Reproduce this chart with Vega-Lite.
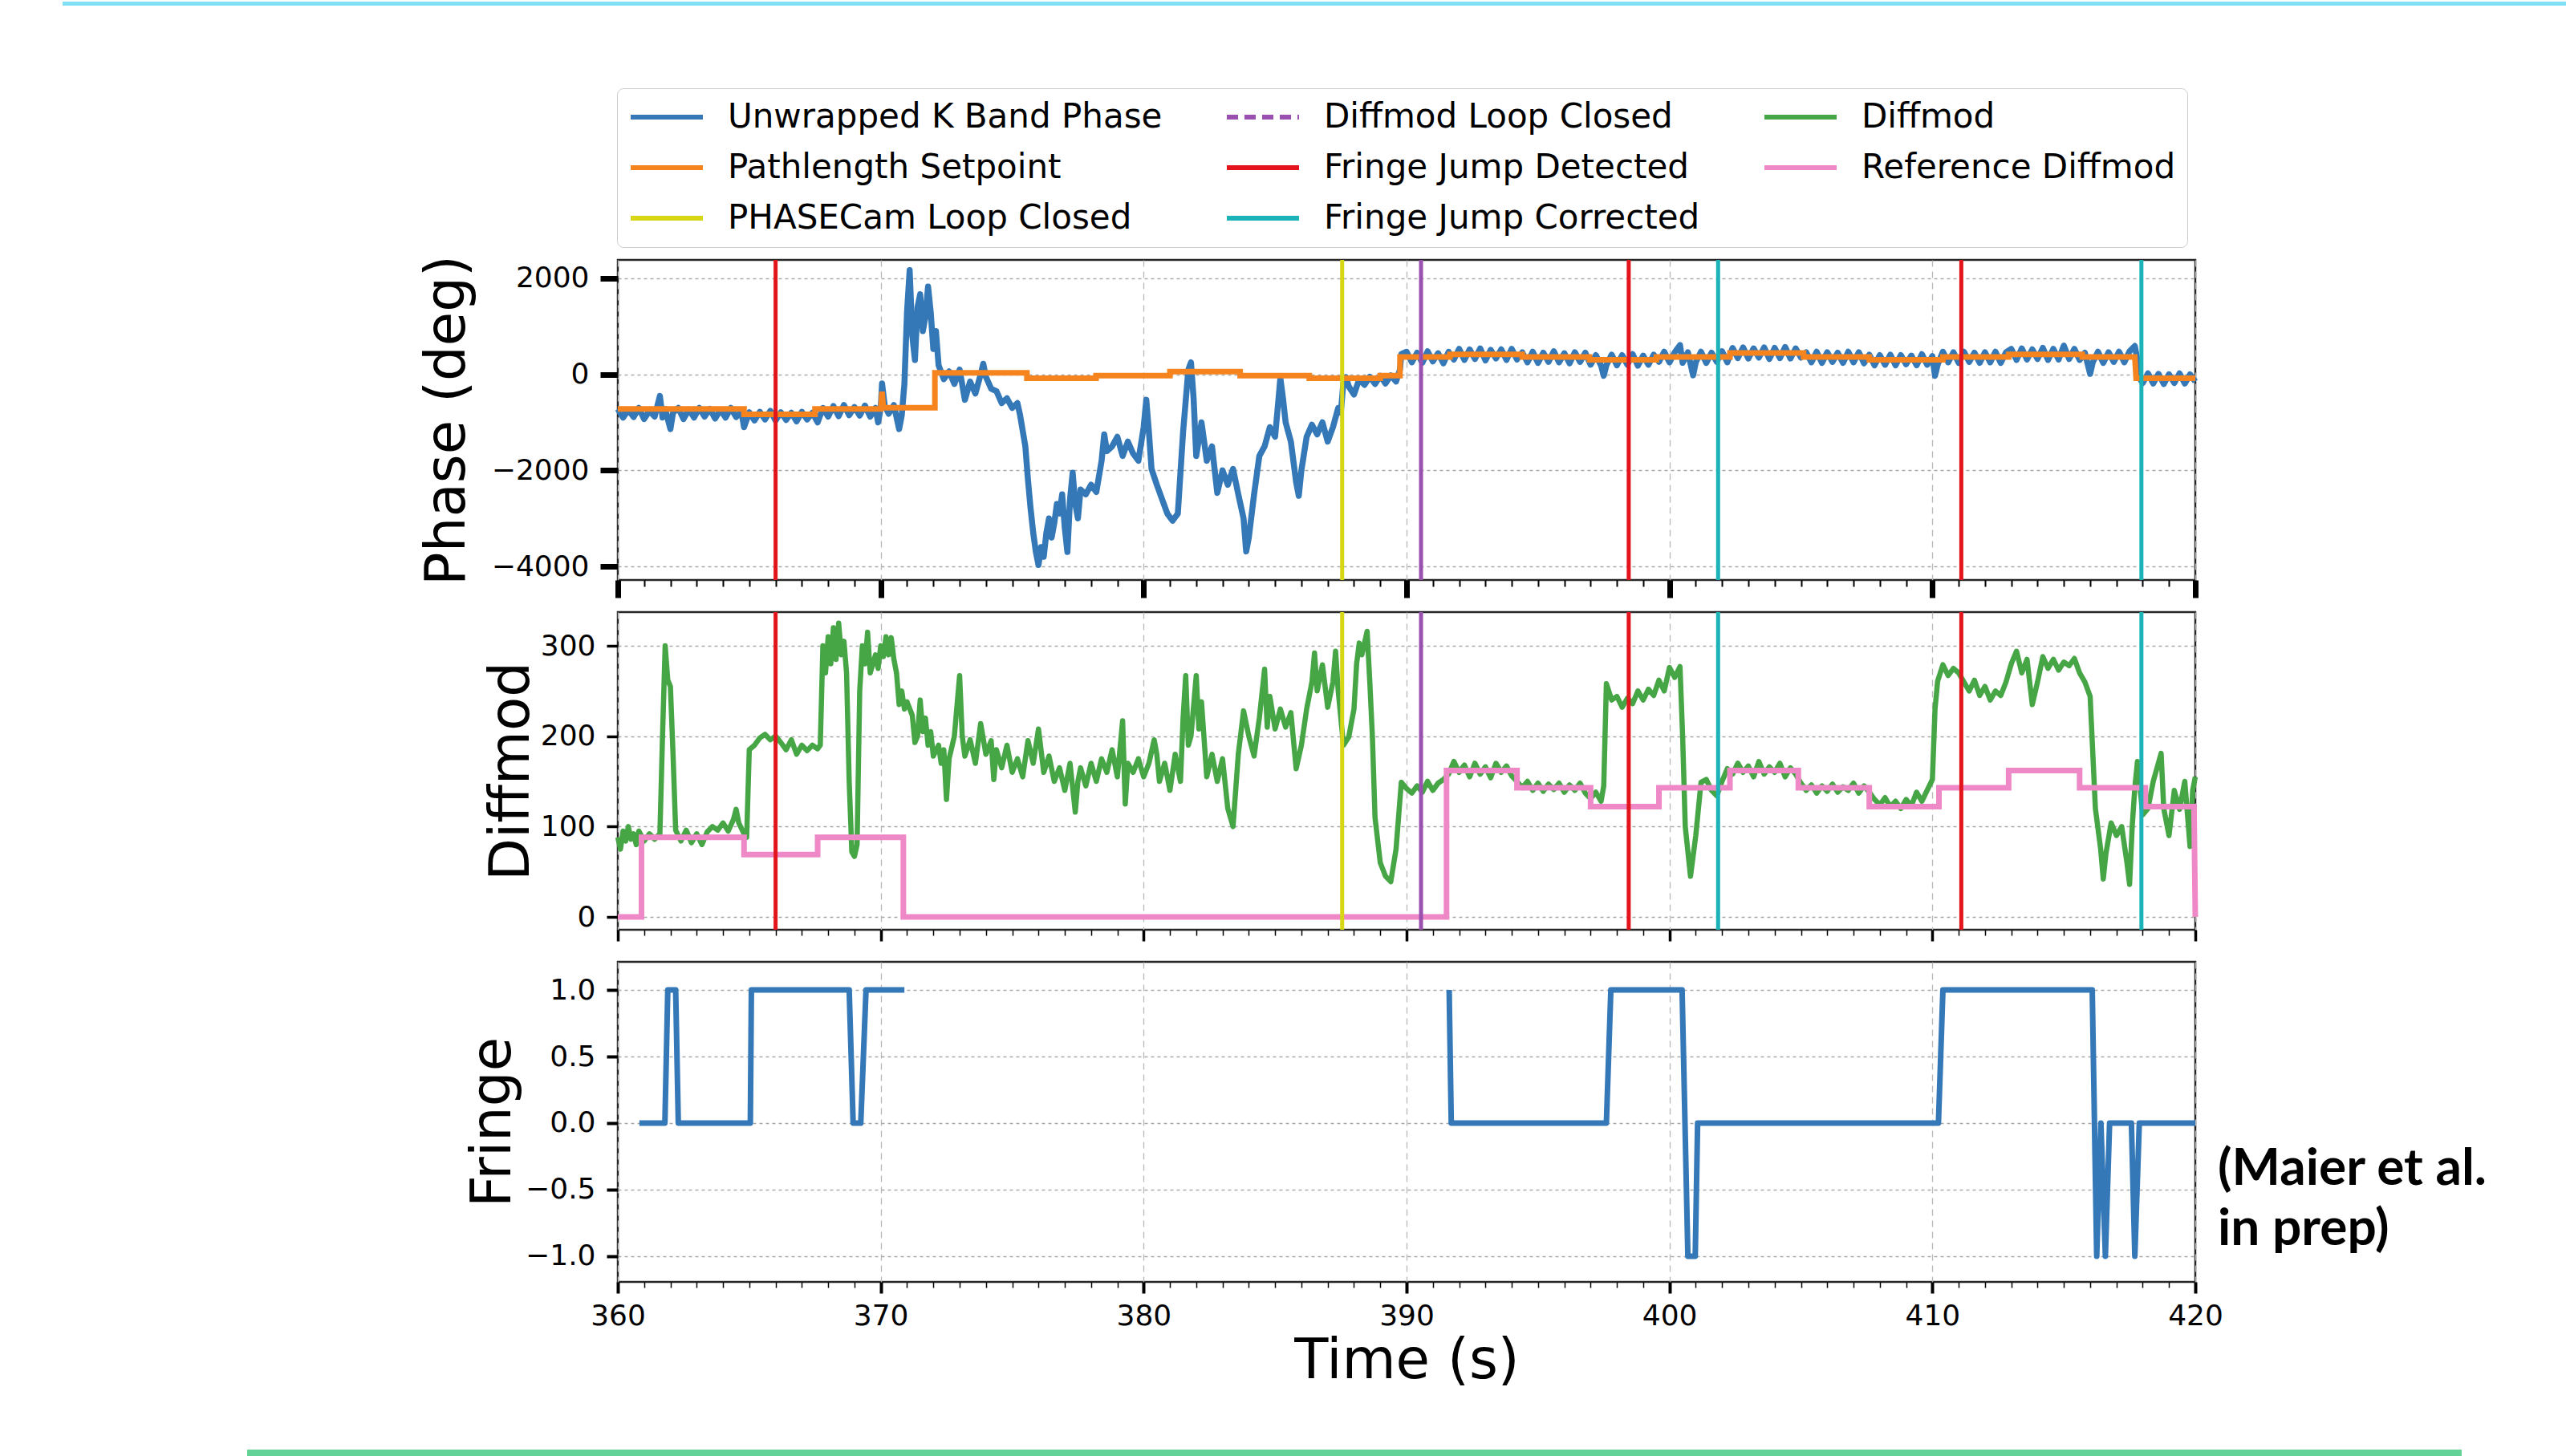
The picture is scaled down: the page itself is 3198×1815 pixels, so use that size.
{
"$schema": "https://vega.github.io/schema/vega-lite/v6.json",
"background": "white",
"padding": {"left": 76, "top": 0, "right": 0, "bottom": 0},
"autosize": {"type": "pad"},
"spacing": 40,
"bounds": "flush",
"resolve": {"scale": {"color": "independent"}, "legend": {"color": "independent"}},
"config": {
 "font": "DejaVu Sans",
 "view": {"stroke": "#262626", "strokeWidth": 2.5},
 "axis": {"labelFont": "DejaVu Sans", "labelFontSize": 36, "labelColor": "#000000", "labelFlush": false, "titleFont": "DejaVu Sans", "titleFontSize": 69, "titleFontWeight": "normal", "titleColor": "#000000", "tickColor": "#000000", "domain": false, "labelPadding": 14, "gridColor": "#b0b0b0", "gridWidth": 1.5}
},
"datasets": {
 "phase": [
{"t":360.0,"v":-720},{"t":360.2,"v":-900},{"t":360.4,"v":-740},{"t":360.6,"v":-890},{"t":360.8,"v":-700},{"t":361.0,"v":-930},{"t":361.2,"v":-760},{"t":361.4,"v":-880},{"t":361.6,"v":-450},{"t":361.7,"v":-900},{"t":361.8,"v":-720},{"t":362.0,"v":-1140},{"t":362.1,"v":-800},{"t":362.3,"v":-700},{"t":362.5,"v":-930},{"t":362.7,"v":-730},{"t":362.9,"v":-900},{"t":363.1,"v":-700},{"t":363.3,"v":-880},{"t":363.5,"v":-720},{"t":363.7,"v":-920},{"t":363.9,"v":-740},{"t":364.1,"v":-900},{"t":364.3,"v":-700},{"t":364.5,"v":-890},{"t":364.7,"v":-780},{"t":364.8,"v":-1100},{"t":365.0,"v":-790},{"t":365.2,"v":-960},{"t":365.4,"v":-780},{"t":365.6,"v":-940},{"t":365.8,"v":-760},{"t":366.0,"v":-960},{"t":366.2,"v":-790},{"t":366.4,"v":-950},{"t":366.6,"v":-800},{"t":366.8,"v":-980},{"t":367.0,"v":-780},{"t":367.2,"v":-940},{"t":367.4,"v":-800},{"t":367.6,"v":-1000},{"t":367.8,"v":-700},{"t":368.0,"v":-880},{"t":368.2,"v":-660},{"t":368.4,"v":-870},{"t":368.6,"v":-640},{"t":368.8,"v":-850},{"t":369.0,"v":-680},{"t":369.2,"v":-860},{"t":369.4,"v":-650},{"t":369.6,"v":-880},{"t":369.8,"v":-700},{"t":369.9,"v":-1000},{"t":370.0,"v":-700},{"t":370.05,"v":-190},{"t":370.15,"v":-650},{"t":370.3,"v":-820},{"t":370.5,"v":-640},{"t":370.7,"v":-1140},{"t":370.8,"v":-850},{"t":370.9,"v":-200},{"t":371.0,"v":1300},{"t":371.1,"v":2170},{"t":371.2,"v":800},{"t":371.3,"v":300},{"t":371.4,"v":1400},{"t":371.5,"v":1670},{"t":371.6,"v":900},{"t":371.7,"v":1200},{"t":371.8,"v":1830},{"t":371.9,"v":1300},{"t":372.0,"v":530},{"t":372.1,"v":900},{"t":372.2,"v":190},{"t":372.4,"v":-100},{"t":372.6,"v":60},{"t":372.8,"v":-200},{"t":373.0,"v":100},{"t":373.2,"v":-530},{"t":373.4,"v":-150},{"t":373.6,"v":-400},{"t":373.8,"v":0},{"t":373.9,"v":220},{"t":374.0,"v":-50},{"t":374.2,"v":-300},{"t":374.4,"v":-350},{"t":374.6,"v":-600},{"t":374.8,"v":-500},{"t":375.0,"v":-700},{"t":375.2,"v":-600},{"t":375.3,"v":-850},{"t":375.5,"v":-1500},{"t":375.6,"v":-2200},{"t":375.7,"v":-2800},{"t":375.8,"v":-3300},{"t":375.9,"v":-3700},{"t":376.0,"v":-3970},{"t":376.1,"v":-3600},{"t":376.2,"v":-3800},{"t":376.3,"v":-3300},{"t":376.4,"v":-3000},{"t":376.5,"v":-3400},{"t":376.6,"v":-3100},{"t":376.7,"v":-2700},{"t":376.8,"v":-2900},{"t":376.9,"v":-2500},{"t":377.0,"v":-3200},{"t":377.1,"v":-3700},{"t":377.2,"v":-2600},{"t":377.3,"v":-2050},{"t":377.4,"v":-2700},{"t":377.5,"v":-3000},{"t":377.6,"v":-2400},{"t":377.8,"v":-2500},{"t":378.0,"v":-2300},{"t":378.2,"v":-2450},{"t":378.4,"v":-1800},{"t":378.5,"v":-1250},{"t":378.6,"v":-1600},{"t":378.8,"v":-1500},{"t":379.0,"v":-1300},{"t":379.2,"v":-1700},{"t":379.4,"v":-1400},{"t":379.6,"v":-1650},{"t":379.8,"v":-1800},{"t":380.0,"v":-1100},{"t":380.1,"v":-530},{"t":380.2,"v":-1200},{"t":380.3,"v":-1970},{"t":380.5,"v":-2300},{"t":380.7,"v":-2600},{"t":380.9,"v":-2900},{"t":381.1,"v":-3050},{"t":381.3,"v":-2900},{"t":381.5,"v":-1200},{"t":381.7,"v":100},{"t":381.8,"v":250},{"t":381.9,"v":-500},{"t":382.0,"v":-1700},{"t":382.2,"v":-1000},{"t":382.4,"v":-1800},{"t":382.6,"v":-1500},{"t":382.8,"v":-2470},{"t":383.0,"v":-2000},{"t":383.2,"v":-2300},{"t":383.4,"v":-1970},{"t":383.6,"v":-2500},{"t":383.8,"v":-3000},{"t":383.9,"v":-3690},{"t":384.0,"v":-3400},{"t":384.2,"v":-2500},{"t":384.4,"v":-1700},{"t":384.6,"v":-1500},{"t":384.8,"v":-1100},{"t":385.0,"v":-1300},{"t":385.2,"v":-80},{"t":385.3,"v":-500},{"t":385.4,"v":-1000},{"t":385.6,"v":-1400},{"t":385.8,"v":-2250},{"t":385.9,"v":-2530},{"t":386.0,"v":-2000},{"t":386.2,"v":-1300},{"t":386.4,"v":-1050},{"t":386.6,"v":-1250},{"t":386.8,"v":-1000},{"t":387.0,"v":-1400},{"t":387.2,"v":-1100},{"t":387.4,"v":-700},{"t":387.5,"v":-800},{"t":387.6,"v":-150},{"t":387.7,"v":-60},{"t":387.8,"v":-250},{"t":388.0,"v":-420},{"t":388.2,"v":-100},{"t":388.4,"v":-220},{"t":388.6,"v":-50},{"t":388.8,"v":-200},{"t":389.0,"v":-30},{"t":389.2,"v":-190},{"t":389.4,"v":-20},{"t":389.6,"v":-150},{"t":389.75,"v":100},{"t":389.8,"v":420},
{"t":390.0,"v":470},{"t":390.2,"v":250},{"t":390.4,"v":450},{"t":390.6,"v":240},{"t":390.8,"v":480},{"t":391.0,"v":270},{"t":391.2,"v":440},{"t":391.4,"v":230},{"t":391.6,"v":470},{"t":391.8,"v":310},{"t":392.0,"v":530},{"t":392.2,"v":300},{"t":392.4,"v":520},{"t":392.6,"v":320},{"t":392.8,"v":540},{"t":393.0,"v":290},{"t":393.2,"v":510},{"t":393.4,"v":330},{"t":393.6,"v":520},{"t":393.8,"v":300},{"t":394.0,"v":530},{"t":394.2,"v":310},{"t":394.4,"v":460},{"t":394.6,"v":250},{"t":394.8,"v":470},{"t":395.0,"v":240},{"t":395.2,"v":450},{"t":395.4,"v":260},{"t":395.6,"v":480},{"t":395.8,"v":250},{"t":396.0,"v":440},{"t":396.2,"v":230},{"t":396.4,"v":460},{"t":396.6,"v":260},{"t":396.8,"v":450},{"t":397.0,"v":200},{"t":397.2,"v":400},{"t":397.4,"v":180},{"t":397.5,"v":-30},{"t":397.6,"v":190},{"t":397.8,"v":410},{"t":398.0,"v":190},{"t":398.2,"v":400},{"t":398.4,"v":200},{"t":398.6,"v":420},{"t":398.8,"v":180},{"t":399.0,"v":390},{"t":399.2,"v":200},{"t":399.4,"v":410},{"t":399.6,"v":260},{"t":399.8,"v":470},{"t":400.0,"v":250},{"t":400.2,"v":460},{"t":400.4,"v":610},{"t":400.5,"v":240},{"t":400.7,"v":460},{"t":400.9,"v":-20},{"t":401.0,"v":250},{"t":401.2,"v":470},{"t":401.4,"v":240},{"t":401.6,"v":450},{"t":401.8,"v":260},{"t":402.0,"v":480},{"t":402.2,"v":250},{"t":402.4,"v":550},{"t":402.6,"v":340},{"t":402.8,"v":560},{"t":403.0,"v":330},{"t":403.2,"v":540},{"t":403.4,"v":350},{"t":403.6,"v":560},{"t":403.8,"v":320},{"t":404.0,"v":550},{"t":404.2,"v":340},{"t":404.4,"v":570},{"t":404.6,"v":330},{"t":404.8,"v":540},{"t":405.0,"v":350},{"t":405.2,"v":460},{"t":405.4,"v":250},{"t":405.6,"v":470},{"t":405.8,"v":240},{"t":406.0,"v":460},{"t":406.2,"v":260},{"t":406.4,"v":450},{"t":406.6,"v":240},{"t":406.8,"v":470},{"t":407.0,"v":250},{"t":407.2,"v":460},{"t":407.4,"v":230},{"t":407.6,"v":410},{"t":407.8,"v":190},{"t":408.0,"v":400},{"t":408.2,"v":200},{"t":408.4,"v":410},{"t":408.6,"v":190},{"t":408.8,"v":400},{"t":409.0,"v":210},{"t":409.2,"v":390},{"t":409.4,"v":190},{"t":409.6,"v":420},{"t":409.8,"v":200},{"t":410.0,"v":380},{"t":410.1,"v":-30},{"t":410.2,"v":200},{"t":410.4,"v":470},{"t":410.6,"v":250},{"t":410.8,"v":460},{"t":411.0,"v":240},{"t":411.2,"v":470},{"t":411.4,"v":260},{"t":411.6,"v":450},{"t":411.8,"v":240},{"t":412.0,"v":460},{"t":412.2,"v":250},{"t":412.4,"v":470},{"t":412.6,"v":240},{"t":412.8,"v":460},{"t":413.0,"v":530},{"t":413.2,"v":300},{"t":413.4,"v":540},{"t":413.6,"v":310},{"t":413.8,"v":520},{"t":414.0,"v":320},{"t":414.2,"v":550},{"t":414.4,"v":300},{"t":414.6,"v":530},{"t":414.8,"v":310},{"t":415.0,"v":600},{"t":415.2,"v":320},{"t":415.4,"v":530},{"t":415.6,"v":300},{"t":415.8,"v":450},{"t":416.0,"v":10},{"t":416.1,"v":250},{"t":416.3,"v":470},{"t":416.5,"v":240},{"t":416.7,"v":460},{"t":416.9,"v":260},{"t":417.1,"v":470},{"t":417.3,"v":250},{"t":417.5,"v":480},{"t":417.7,"v":590},{"t":417.8,"v":300},{"t":417.9,"v":-100},{"t":418.0,"v":-180},{"t":418.2,"v":20},{"t":418.4,"v":-190},{"t":418.6,"v":10},{"t":418.8,"v":-200},{"t":419.0,"v":0},{"t":419.2,"v":-180},{"t":419.4,"v":20},{"t":419.6,"v":-190},{"t":419.8,"v":0},{"t":420.0,"v":-150}
 ],
 "setp": [
{"t":360,"v":-722},{"t":364.8,"v":-722},{"t":364.8,"v":-833},{"t":367.5,"v":-833},{"t":367.5,"v":-722},{"t":370.0,"v":-722},{"t":370.05,"v":-361},{"t":370.1,"v":-694},{"t":372.06,"v":-694},{"t":372.06,"v":30},{"t":375.56,"v":30},{"t":375.56,"v":-83},{"t":378.19,"v":-83},{"t":378.19,"v":-28},{"t":381.0,"v":-28},{"t":381.0,"v":55},{"t":383.67,"v":55},{"t":383.67,"v":-28},{"t":386.3,"v":-28},{"t":386.3,"v":-83},{"t":389.0,"v":-83},{"t":389.0,"v":-28},{"t":389.75,"v":-28},{"t":389.75,"v":361},{"t":391.65,"v":361},{"t":391.65,"v":417},{"t":394.4,"v":417},{"t":394.4,"v":361},{"t":396.96,"v":361},{"t":396.96,"v":305},{"t":399.5,"v":305},{"t":399.5,"v":361},{"t":402.3,"v":361},{"t":402.3,"v":444},{"t":405.1,"v":444},{"t":405.1,"v":361},{"t":407.6,"v":361},{"t":407.6,"v":305},{"t":410.4,"v":305},{"t":410.4,"v":361},{"t":412.9,"v":361},{"t":412.9,"v":417},{"t":415.7,"v":417},{"t":415.7,"v":361},{"t":417.7,"v":361},{"t":417.75,"v":-83},{"t":420,"v":-83}
 ],
 "diff": [
{"t":360.0,"v":88},{"t":360.1,"v":75},{"t":360.2,"v":95},{"t":360.3,"v":84},{"t":360.4,"v":100},{"t":360.5,"v":86},{"t":360.6,"v":92},{"t":360.7,"v":80},{"t":360.8,"v":95},{"t":361.0,"v":84},{"t":361.2,"v":92},{"t":361.4,"v":86},{"t":361.6,"v":92},{"t":361.7,"v":200},{"t":361.8,"v":300},{"t":361.9,"v":262},{"t":362.0,"v":255},{"t":362.1,"v":180},{"t":362.2,"v":96},{"t":362.4,"v":84},{"t":362.6,"v":96},{"t":362.8,"v":82},{"t":363.0,"v":92},{"t":363.2,"v":80},{"t":363.4,"v":94},{"t":363.6,"v":100},{"t":363.8,"v":96},{"t":364.0,"v":104},{"t":364.2,"v":95},{"t":364.4,"v":108},{"t":364.5,"v":119},{"t":364.6,"v":104},{"t":364.8,"v":92},{"t":364.9,"v":88},{"t":365.0,"v":185},{"t":365.2,"v":190},{"t":365.4,"v":198},{"t":365.6,"v":202},{"t":365.8,"v":196},{"t":366.0,"v":200},{"t":366.2,"v":193},{"t":366.4,"v":185},{"t":366.6,"v":196},{"t":366.8,"v":180},{"t":367.0,"v":190},{"t":367.2,"v":184},{"t":367.4,"v":190},{"t":367.6,"v":186},{"t":367.7,"v":190},{"t":367.8,"v":300},{"t":367.9,"v":270},{"t":368.0,"v":310},{"t":368.1,"v":280},{"t":368.2,"v":320},{"t":368.3,"v":285},{"t":368.4,"v":325},{"t":368.5,"v":290},{"t":368.6,"v":305},{"t":368.7,"v":270},{"t":368.8,"v":150},{"t":368.9,"v":72},{"t":369.0,"v":67},{"t":369.1,"v":80},{"t":369.2,"v":250},{"t":369.3,"v":300},{"t":369.4,"v":280},{"t":369.5,"v":315},{"t":369.6,"v":270},{"t":369.8,"v":290},{"t":369.9,"v":275},{"t":370.0,"v":300},{"t":370.1,"v":288},{"t":370.2,"v":310},{"t":370.3,"v":290},{"t":370.4,"v":309},{"t":370.5,"v":285},{"t":370.6,"v":270},{"t":370.7,"v":235},{"t":370.8,"v":250},{"t":370.9,"v":230},{"t":371.0,"v":238},{"t":371.2,"v":223},{"t":371.3,"v":193},{"t":371.4,"v":200},{"t":371.5,"v":240},{"t":371.6,"v":205},{"t":371.7,"v":220},{"t":371.8,"v":190},{"t":371.9,"v":205},{"t":372.0,"v":178},{"t":372.2,"v":190},{"t":372.3,"v":170},{"t":372.4,"v":185},{"t":372.5,"v":130},{"t":372.6,"v":175},{"t":372.8,"v":200},{"t":373.0,"v":267},{"t":373.1,"v":200},{"t":373.2,"v":178},{"t":373.4,"v":196},{"t":373.6,"v":170},{"t":373.8,"v":214},{"t":374.0,"v":180},{"t":374.2,"v":195},{"t":374.3,"v":152},{"t":374.4,"v":185},{"t":374.6,"v":165},{"t":374.8,"v":190},{"t":375.0,"v":160},{"t":375.2,"v":175},{"t":375.4,"v":155},{"t":375.6,"v":195},{"t":375.8,"v":170},{"t":376.0,"v":208},{"t":376.2,"v":160},{"t":376.4,"v":178},{"t":376.6,"v":150},{"t":376.8,"v":165},{"t":377.0,"v":140},{"t":377.2,"v":170},{"t":377.4,"v":116},{"t":377.5,"v":150},{"t":377.6,"v":165},{"t":377.8,"v":145},{"t":378.0,"v":170},{"t":378.2,"v":150},{"t":378.4,"v":175},{"t":378.6,"v":160},{"t":378.8,"v":185},{"t":379.0,"v":155},{"t":379.2,"v":217},{"t":379.3,"v":125},{"t":379.4,"v":170},{"t":379.6,"v":160},{"t":379.8,"v":175},{"t":380.0,"v":155},{"t":380.2,"v":170},{"t":380.4,"v":196},{"t":380.5,"v":180},{"t":380.6,"v":150},{"t":380.8,"v":170},{"t":381.0,"v":140},{"t":381.2,"v":180},{"t":381.4,"v":150},{"t":381.5,"v":220},{"t":381.6,"v":267},{"t":381.7,"v":190},{"t":381.8,"v":200},{"t":382.0,"v":267},{"t":382.1,"v":208},{"t":382.2,"v":238},{"t":382.4,"v":155},{"t":382.6,"v":180},{"t":382.8,"v":150},{"t":383.0,"v":175},{"t":383.2,"v":120},{"t":383.4,"v":100},{"t":383.6,"v":180},{"t":383.8,"v":228},{"t":384.0,"v":200},{"t":384.2,"v":178},{"t":384.4,"v":220},{"t":384.6,"v":274},{"t":384.7,"v":210},{"t":384.8,"v":244},{"t":385.0,"v":208},{"t":385.2,"v":230},{"t":385.4,"v":210},{"t":385.6,"v":226},{"t":385.8,"v":164},{"t":386.0,"v":190},{"t":386.2,"v":230},{"t":386.4,"v":260},{"t":386.5,"v":292},{"t":386.6,"v":250},{"t":386.8,"v":279},{"t":387.0,"v":232},{"t":387.2,"v":260},{"t":387.3,"v":294},{"t":387.4,"v":250},{"t":387.6,"v":190},{"t":387.8,"v":199},{"t":388.0,"v":230},{"t":388.1,"v":280},{"t":388.2,"v":303},{"t":388.3,"v":290},{"t":388.5,"v":316},{"t":388.6,"v":261},{"t":388.7,"v":200},{"t":388.8,"v":110},{"t":389.0,"v":60},{"t":389.2,"v":45},{"t":389.4,"v":39},{"t":389.6,"v":75},{"t":389.8,"v":149},{"t":390.0,"v":142},{"t":390.2,"v":137},{"t":390.4,"v":145},{"t":390.6,"v":138},{"t":390.8,"v":150},{"t":391.0,"v":140},{"t":391.2,"v":148},{"t":391.4,"v":152},{"t":391.6,"v":158},{"t":391.8,"v":172},{"t":392.0,"v":160},{"t":392.2,"v":168},{"t":392.4,"v":155},{"t":392.6,"v":170},{"t":392.8,"v":158},{"t":393.0,"v":166},{"t":393.2,"v":154},{"t":393.4,"v":170},{"t":393.6,"v":160},{"t":393.8,"v":167},{"t":394.0,"v":156},{"t":394.2,"v":150},{"t":394.4,"v":143},{"t":394.6,"v":150},{"t":394.8,"v":140},{"t":395.0,"v":148},{"t":395.2,"v":139},{"t":395.4,"v":147},{"t":395.6,"v":141},{"t":395.8,"v":148},{"t":396.0,"v":138},{"t":396.2,"v":146},{"t":396.4,"v":140},{"t":396.6,"v":148},{"t":396.8,"v":137},{"t":397.0,"v":131},{"t":397.2,"v":138},{"t":397.4,"v":128},{"t":397.5,"v":145},{"t":397.6,"v":258},{"t":397.8,"v":240},{"t":398.0,"v":244},{"t":398.2,"v":232},{"t":398.4,"v":242},{"t":398.6,"v":236},{"t":398.8,"v":250},{"t":399.0,"v":240},{"t":399.2,"v":252},{"t":399.4,"v":245},{"t":399.6,"v":262},{"t":399.8,"v":250},{"t":400.0,"v":276},{"t":400.2,"v":265},{"t":400.4,"v":277},{"t":400.5,"v":200},{"t":400.6,"v":100},{"t":400.8,"v":45},{"t":401.0,"v":90},{"t":401.2,"v":149},{"t":401.4,"v":152},{"t":401.6,"v":140},{"t":401.8,"v":134},{"t":402.0,"v":150},{"t":402.2,"v":164},{"t":402.4,"v":158},{"t":402.6,"v":170},{"t":402.8,"v":160},{"t":403.0,"v":167},{"t":403.2,"v":155},{"t":403.4,"v":172},{"t":403.6,"v":158},{"t":403.8,"v":166},{"t":404.0,"v":160},{"t":404.2,"v":170},{"t":404.4,"v":155},{"t":404.6,"v":165},{"t":404.8,"v":158},{"t":405.0,"v":148},{"t":405.2,"v":140},{"t":405.4,"v":146},{"t":405.6,"v":137},{"t":405.8,"v":145},{"t":406.0,"v":139},{"t":406.2,"v":147},{"t":406.4,"v":138},{"t":406.6,"v":144},{"t":406.8,"v":140},{"t":407.0,"v":148},{"t":407.2,"v":137},{"t":407.4,"v":145},{"t":407.6,"v":138},{"t":407.8,"v":130},{"t":408.0,"v":124},{"t":408.2,"v":132},{"t":408.4,"v":122},{"t":408.6,"v":128},{"t":408.8,"v":120},{"t":409.0,"v":130},{"t":409.2,"v":123},{"t":409.4,"v":138},{"t":409.6,"v":128},{"t":409.8,"v":140},{"t":410.0,"v":152},{"t":410.1,"v":230},{"t":410.2,"v":261},{"t":410.4,"v":279},{"t":410.6,"v":267},{"t":410.8,"v":275},{"t":411.0,"v":270},{"t":411.2,"v":260},{"t":411.4,"v":250},{"t":411.6,"v":262},{"t":411.8,"v":245},{"t":412.0,"v":255},{"t":412.2,"v":240},{"t":412.4,"v":250},{"t":412.6,"v":245},{"t":412.8,"v":260},{"t":413.0,"v":280},{"t":413.2,"v":294},{"t":413.4,"v":270},{"t":413.6,"v":285},{"t":413.8,"v":235},{"t":414.0,"v":260},{"t":414.2,"v":288},{"t":414.4,"v":275},{"t":414.6,"v":285},{"t":414.8,"v":273},{"t":415.0,"v":282},{"t":415.2,"v":278},{"t":415.4,"v":286},{"t":415.6,"v":270},{"t":415.8,"v":260},{"t":416.0,"v":244},{"t":416.2,"v":120},{"t":416.4,"v":75},{"t":416.5,"v":42},{"t":416.6,"v":70},{"t":416.8,"v":104},{"t":417.0,"v":90},{"t":417.2,"v":100},{"t":417.4,"v":60},{"t":417.5,"v":36},{"t":417.6,"v":100},{"t":417.7,"v":143},{"t":417.8,"v":172},{"t":418.0,"v":113},{"t":418.2,"v":120},{"t":418.4,"v":150},{"t":418.7,"v":181},{"t":418.8,"v":120},{"t":419.0,"v":90},{"t":419.2,"v":140},{"t":419.4,"v":119},{"t":419.6,"v":150},{"t":419.8,"v":78},{"t":419.9,"v":140},{"t":420.0,"v":155}
 ],
 "ref": [
{"t":360.0,"v":0},{"t":360.9,"v":0},{"t":360.9,"v":88},{"t":364.8,"v":88},{"t":364.8,"v":69},{"t":367.6,"v":69},{"t":367.6,"v":88},{"t":370.86,"v":88},{"t":370.86,"v":0},{"t":391.52,"v":0},{"t":391.52,"v":162},{"t":394.2,"v":162},{"t":394.2,"v":143},{"t":397.0,"v":143},{"t":397.0,"v":122},{"t":399.6,"v":122},{"t":399.6,"v":143},{"t":402.3,"v":143},{"t":402.3,"v":162},{"t":404.9,"v":162},{"t":404.9,"v":143},{"t":407.6,"v":143},{"t":407.6,"v":122},{"t":410.25,"v":122},{"t":410.25,"v":143},{"t":412.9,"v":143},{"t":412.9,"v":162},{"t":415.6,"v":162},{"t":415.6,"v":143},{"t":418.1,"v":143},{"t":418.1,"v":122},{"t":419.95,"v":122},{"t":420.0,"v":0}
 ],
 "fringe": [
{"t":360.82,"v":0,"seg":1},{"t":361.79,"v":0,"seg":1},{"t":361.9,"v":1,"seg":1},{"t":362.2,"v":1,"seg":1},{"t":362.3,"v":0,"seg":1},{"t":365.04,"v":0,"seg":1},{"t":365.08,"v":1,"seg":1},{"t":368.8,"v":1,"seg":1},{"t":368.95,"v":0,"seg":1},{"t":369.24,"v":0,"seg":1},{"t":369.44,"v":1,"seg":1},{"t":370.9,"v":1,"seg":1},
{"t":391.62,"v":1,"seg":2},{"t":391.7,"v":0,"seg":2},{"t":397.6,"v":0,"seg":2},{"t":397.77,"v":1,"seg":2},{"t":400.48,"v":1,"seg":2},{"t":400.7,"v":-1,"seg":2},{"t":400.98,"v":-1,"seg":2},{"t":401.07,"v":0,"seg":2},{"t":410.23,"v":0,"seg":2},{"t":410.4,"v":1,"seg":2},{"t":416.08,"v":1,"seg":2},{"t":416.25,"v":-1,"seg":2},{"t":416.41,"v":0,"seg":2},{"t":416.58,"v":-1,"seg":2},{"t":416.74,"v":0,"seg":2},{"t":417.57,"v":0,"seg":2},{"t":417.7,"v":-1,"seg":2},{"t":417.87,"v":0,"seg":2},{"t":420.0,"v":0,"seg":2}
 ],
 "events": [
{"t":366.0,"kind":"Fringe Jump Detected"},{"t":387.55,"kind":"PHASECam Loop Closed"},{"t":390.55,"kind":"Diffmod Loop Closed"},{"t":398.45,"kind":"Fringe Jump Detected"},{"t":401.85,"kind":"Fringe Jump Corrected"},{"t":411.1,"kind":"Fringe Jump Detected"},{"t":417.95,"kind":"Fringe Jump Corrected"}
 ]
},
"vconcat": [
 {
  "width": 1966, "height": 399,
  "resolve": {"axis": {"x": "independent"}},
  "layer": [
   {"data": {"name": "phase"}, "mark": {"type": "line", "strokeWidth": 7.5, "strokeJoin": "round"},
    "encoding": {
     "x": {"field": "t", "type": "quantitative", "scale": {"domain": [360, 420], "nice": false, "zero": false},
       "axis": {"orient": "bottom", "values": [360,370,380,390,400,410,420], "labels": false, "tickSize": 22, "tickWidth": 7, "grid": true, "gridDash": [8,6], "gridColor": "#b8b8b8", "gridWidth": 1.3, "title": null}},
     "y": {"field": "v", "type": "quantitative", "scale": {"domain": [-4284, 2384], "nice": false, "zero": false},
       "axis": {"values": [-4000,-2000,0,2000], "format": "d", "tickSize": 22, "tickWidth": 7, "title": "Phase (deg)", "titlePadding": 20, "grid": true, "gridDash": [4,4], "gridColor": "#a8a8a8"}},
     "color": {"datum": "Unwrapped K Band Phase", "type": "nominal", "title": null,
       "scale": {"domain": ["Unwrapped K Band Phase","Pathlength Setpoint","PHASECam Loop Closed","Diffmod Loop Closed","Fringe Jump Detected","Fringe Jump Corrected","Diffmod","Reference Diffmod"],
                 "range": ["#3478b8","#f5841f","#d6d614","#9a50ae","#e3141b","#1bb3b8","#46a646","#ee88c6"]},
       "legend": {"orient": "none", "legendX": -1, "legendY": -214, "columns": 3, "title": null,
         "symbolType": "stroke", "symbolSize": 8100, "symbolStrokeWidth": 6,
         "labelFontSize": 42, "labelFont": "DejaVu Sans", "labelColor": "#000000", "labelLimit": 2000, "labelOffset": 28,
         "columnPadding": 77, "rowPadding": 19, "clipHeight": 44, "padding": 14,
         "strokeColor": "#cccccc", "fillColor": "#ffffff", "cornerRadius": 8, "gridAlign": "each",
         "encode": {"symbols": {"update": {"strokeDash": {"signal": "datum.value === 'Diffmod Loop Closed' ? [14, 8] : [1, 0]"}, "strokeWidth": {"value": 6}}}}}}
    }},
   {"data": {"name": "setp"}, "mark": {"type": "line", "strokeWidth": 7},
    "encoding": {
     "x": {"field": "t", "type": "quantitative", "axis": null},
     "y": {"field": "v", "type": "quantitative"},
     "color": {"datum": "Pathlength Setpoint", "type": "nominal", "title": null}
    }},
   {"data": {"name": "events"}, "mark": {"type": "rule", "strokeWidth": 5},
    "encoding": {
     "x": {"field": "t", "type": "quantitative", "axis": null},
     "color": {"field": "kind", "type": "nominal", "title": null}
    }},
   {"data": {"values": [{}]}, "mark": {"type": "rect", "color": "#7fe0f6"},
    "encoding": {
     "x": {"datum": 338.881, "type": "quantitative",
       "axis": {"orient": "bottom", "values": [361,362,363,364,365,366,367,368,369,371,372,373,374,375,376,377,378,379,381,382,383,384,385,386,387,388,389,391,392,393,394,395,396,397,398,399,401,402,403,404,405,406,407,408,409,411,412,413,414,415,416,417,418,419], "labels": false, "tickSize": 8, "tickWidth": 2, "grid": false, "title": null}},
     "x2": {"datum": 434.159},
     "y": {"datum": 7765, "type": "quantitative"},
     "y2": {"datum": 7682}
    }}
  ]
 },
 {
  "width": 1966, "height": 396,
  "resolve": {"axis": {"x": "independent"}},
  "layer": [
   {"data": {"name": "diff"}, "mark": {"type": "line", "strokeWidth": 6.5, "color": "#46a646", "strokeJoin": "round"},
    "encoding": {
     "x": {"field": "t", "type": "quantitative", "scale": {"domain": [360, 420], "nice": false, "zero": false},
       "axis": {"orient": "bottom", "values": [360,370,380,390,400,410,420], "labels": false, "tickSize": 14, "tickWidth": 3.5, "grid": true, "gridDash": [8,6], "gridColor": "#b8b8b8", "gridWidth": 1.3, "title": null}},
     "y": {"field": "v", "type": "quantitative", "scale": {"domain": [-14.2, 337.3], "nice": false, "zero": false},
       "axis": {"values": [0,100,200,300], "format": "d", "tickSize": 14, "tickWidth": 3.5, "title": "Diffmod", "titlePadding": 1, "grid": true, "gridDash": [4,4], "gridColor": "#a8a8a8"}}
    }},
   {"data": {"name": "ref"}, "mark": {"type": "line", "strokeWidth": 7, "color": "#ee88c6"},
    "encoding": {
     "x": {"field": "t", "type": "quantitative",
       "axis": {"orient": "bottom", "values": [361,362,363,364,365,366,367,368,369,371,372,373,374,375,376,377,378,379,381,382,383,384,385,386,387,388,389,391,392,393,394,395,396,397,398,399,401,402,403,404,405,406,407,408,409,411,412,413,414,415,416,417,418,419], "labels": false, "tickSize": 7, "tickWidth": 1.5, "grid": false, "title": null}},
     "y": {"field": "v", "type": "quantitative"}
    }},
   {"data": {"name": "events"}, "mark": {"type": "rule", "strokeWidth": 5},
    "encoding": {
     "x": {"field": "t", "type": "quantitative", "axis": null},
     "color": {"field": "kind", "type": "nominal", "legend": null,
       "scale": {"domain": ["Fringe Jump Detected","PHASECam Loop Closed","Diffmod Loop Closed","Fringe Jump Corrected"], "range": ["#e3141b","#d6d614","#9a50ae","#1bb3b8"]}}
    }}
  ]
 },
 {
  "width": 1966, "height": 399,
  "resolve": {"axis": {"x": "independent"}},
  "layer": [
   {"data": {"name": "fringe"}, "mark": {"type": "line", "strokeWidth": 7, "color": "#3478b8", "strokeJoin": "round"},
    "encoding": {
     "x": {"field": "t", "type": "quantitative", "scale": {"domain": [360, 420], "nice": false, "zero": false},
       "axis": {"orient": "bottom", "values": [360,370,380,390,400,410,420], "format": "d", "labelPadding": 11, "tickSize": 14, "tickWidth": 4, "grid": true, "gridDash": [8,6], "gridColor": "#b8b8b8", "gridWidth": 1.3, "title": "Time (s)", "titlePadding": 4}},
     "y": {"field": "v", "type": "quantitative", "scale": {"domain": [-1.193, 1.211], "nice": false, "zero": false},
       "axis": {"values": [-1,-0.5,0,0.5,1], "format": ".1f", "tickSize": 14, "tickWidth": 4, "title": "Fringe", "titlePadding": 5, "grid": true, "gridDash": [4,4], "gridColor": "#a8a8a8"}},
     "detail": {"field": "seg", "type": "nominal"}
    }},
   {"data": {"values": [{}]}, "mark": {"type": "rect", "color": "#62d296"},
    "encoding": {
     "x": {"datum": 345.901, "type": "quantitative",
       "axis": {"orient": "bottom", "values": [361,362,363,364,365,366,367,368,369,371,372,373,374,375,376,377,378,379,381,382,383,384,385,386,387,388,389,391,392,393,394,395,396,397,398,399,401,402,403,404,405,406,407,408,409,411,412,413,414,415,416,417,418,419], "labels": false, "tickSize": 7, "tickWidth": 1.5, "grid": false, "title": null}},
     "x2": {"datum": 430.131},
     "y": {"datum": -2.4523, "type": "quantitative"},
     "y2": {"datum": -2.5126}
    }},
   {"data": {"values": [{}]}, "mark": {"type": "text", "text": ["(Maier et al.", "in prep)"], "font": "Lato", "fontWeight": "bold", "fontSize": 64, "lineHeight": 75, "align": "left", "baseline": "alphabetic", "color": "#000000"},
    "encoding": {
     "x": {"datum": 420.855, "type": "quantitative", "axis": null},
     "y": {"datum": -0.464, "type": "quantitative"}
    }}
  ]
 }
]
}
